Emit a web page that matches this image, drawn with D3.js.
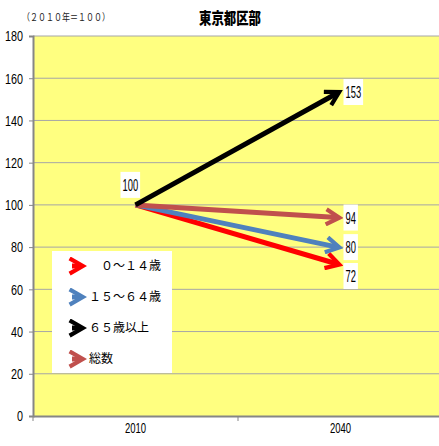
<!DOCTYPE html>
<html>
<head>
<meta charset="utf-8">
<script src="https://cdn.jsdelivr.net/npm/d3@7"></script>
<style>
  body { margin: 0; background: #fff; }
  svg { display: block; }
</style>
</head>
<body>
<div id="chart"></div>
<script>
var years = ["2010", "2040"];
var legendLabels = ["　０～１４歳", "１５～６４歳", "６５歳以上", "総数"];
var seriesColors = ["#ff0000", "#4f81bd", "#000000", "#c0504d"];
var startValue = 100;
var endValues = [72, 80, 153, 94];
var yTicks = [0, 20, 40, 60, 80, 100, 120, 140, 160, 180];

var width = 439,
  height = 446,
  margin = {top: 36, right: -4, bottom: 30, left: 33},
  innerWidth = width - margin.left - margin.right,
  innerHeight = height - margin.top - margin.bottom;

var narrow = "Liberation Sans, Arial, sans-serif";

var svg = d3.select("#chart").append("svg")
  .attr("width", width)
  .attr("height", height);

var xScale = d3.scaleBand().domain(years).range([0, innerWidth]);
var yScale = d3.scaleLinear().domain([0, 180]).range([innerHeight, 0]);

// squeeze a text to look like a condensed face
function squeeze(sel, perChar) {
  sel.each(function() {
    var n = this.textContent.length;
    d3.select(this).attr("textLength", n * perChar).attr("lengthAdjust", "spacingAndGlyphs");
  });
}

var g = svg.append("g")
  .attr("transform", "translate(" + margin.left + "," + margin.top + ")");

// plot background
g.append("rect")
  .attr("width", innerWidth)
  .attr("height", innerHeight)
  .attr("fill", "#ffff80");

// gridlines
g.selectAll(".grid")
  .data(yTicks.filter(function(d) { return d > 0; }))
  .enter().append("line")
  .attr("class", "grid")
  .attr("x1", 0)
  .attr("x2", innerWidth)
  .attr("y1", function(d) { return yScale(d); })
  .attr("y2", function(d) { return yScale(d); })
  .attr("stroke", "#a6a6a6")
  .attr("stroke-width", 1);

// y axis
var yAxisG = g.append("g")
  .call(d3.axisLeft(yScale).tickValues(yTicks).tickSize(4).tickPadding(6));
yAxisG.select(".domain").attr("stroke", "#868686").attr("stroke-width", 2);
yAxisG.selectAll(".tick line").attr("stroke", "#868686");
yAxisG.selectAll("text").attr("font-size", 15).attr("fill", "#000")
  .attr("font-family", narrow)
  .call(squeeze, 6);

// x axis
var xAxisG = g.append("g")
  .attr("transform", "translate(0," + innerHeight + ")")
  .call(d3.axisBottom(xScale).tickSize(0).tickPadding(6));
xAxisG.select(".domain").attr("stroke", "#868686").attr("stroke-width", 2);
xAxisG.selectAll("text").attr("font-size", 15).attr("fill", "#000")
  .attr("font-family", narrow)
  .call(squeeze, 5.3);
// separator ticks between categories
g.selectAll(".sep")
  .data(years.concat(["end"]))
  .enter().append("line")
  .attr("x1", function(d, i) { return i * xScale.step(); })
  .attr("x2", function(d, i) { return i * xScale.step(); })
  .attr("y1", innerHeight)
  .attr("y2", innerHeight + 5)
  .attr("stroke", "#868686");

// arrow markers
var defs = svg.append("defs");
seriesColors.forEach(function(c, i) {
  defs.append("marker")
    .attr("id", "arrow" + i)
    .attr("viewBox", "0 0 10 10")
    .attr("refX", 7)
    .attr("refY", 5)
    .attr("markerWidth", 3.8)
    .attr("markerHeight", 3.8)
    .attr("orient", "auto")
    .append("path")
    .attr("d", "M1,1 L8,5 L1,9")
    .attr("fill", "none")
    .attr("stroke", c)
    .attr("stroke-width", 2.2)
    .attr("stroke-linejoin", "miter");
});

var x0 = xScale("2010") + xScale.bandwidth() / 2;
var x1 = xScale("2040") + xScale.bandwidth() / 2;

// draw order: red, blue, brown, black
var order = [0, 1, 3, 2];
order.forEach(function(i) {
  g.append("line")
    .attr("x1", x0)
    .attr("y1", yScale(startValue))
    .attr("x2", x1 - 3)
    .attr("y2", yScale(endValues[i]))
    .attr("stroke", seriesColors[i])
    .attr("stroke-width", 5)
    .attr("marker-end", "url(#arrow" + i + ")");
});

// value labels
function valueLabel(x, y, txt) {
  var lg = g.append("g").attr("transform", "translate(" + x + "," + y + ")");
  var t = lg.append("text")
    .attr("font-family", narrow)
    .attr("font-size", 17)
    .attr("x", 2)
    .attr("dy", "0.35em")
    .text(txt)
    .call(squeeze, 5.2);
  var w = String(txt).length * 5.2;
  lg.insert("rect", "text")
    .attr("x", 0)
    .attr("y", -13)
    .attr("width", w + 4)
    .attr("height", 26)
    .attr("fill", "#fff");
}
valueLabel(x0 - 15, yScale(startValue) - 20, startValue);
endValues.forEach(function(v, i) {
  var yy = yScale(v);
  if (i === 0) yy += 12;
  if (i === 2) yy -= 1;
  valueLabel(x1 + 3, yy, v);
});

// legend
var lg = g.append("g").attr("transform", "translate(" + (52 - margin.left) + "," + (251 - margin.top) + ")");
lg.append("rect")
  .attr("width", 120)
  .attr("height", 122)
  .attr("fill", "#fff");
legendLabels.forEach(function(name, i) {
  var yy = 15 + i * 31;
  lg.append("line")
    .attr("x1", 20)
    .attr("x2", 29)
    .attr("y1", yy)
    .attr("y2", yy)
    .attr("stroke", seriesColors[i])
    .attr("stroke-width", 5)
    .attr("marker-end", "url(#arrow" + i + ")");
  lg.append("text")
    .attr("x", 37)
    .attr("y", yy)
    .attr("dy", "0.35em")
    .attr("font-size", 12)
    .attr("font-family", "Noto Sans CJK JP, sans-serif")
    .text(name);
});

// titles
svg.append("text")
  .attr("x", 230)
  .attr("y", 24)
  .attr("text-anchor", "middle")
  .attr("font-size", 16)
  .attr("font-weight", "900")
  .attr("font-family", "Noto Sans CJK JP, sans-serif")
  .attr("textLength", 62)
  .attr("lengthAdjust", "spacingAndGlyphs")
  .text("東京都区部");
svg.append("text")
  .attr("x", 22)
  .attr("y", 21)
  .attr("font-size", 10)
  .attr("font-family", "Noto Sans CJK JP, sans-serif")
  .attr("fill", "#222")
  .attr("textLength", 88)
  .attr("lengthAdjust", "spacingAndGlyphs")
  .text("（２０１０年＝１００）");
</script>
</body>
</html>
